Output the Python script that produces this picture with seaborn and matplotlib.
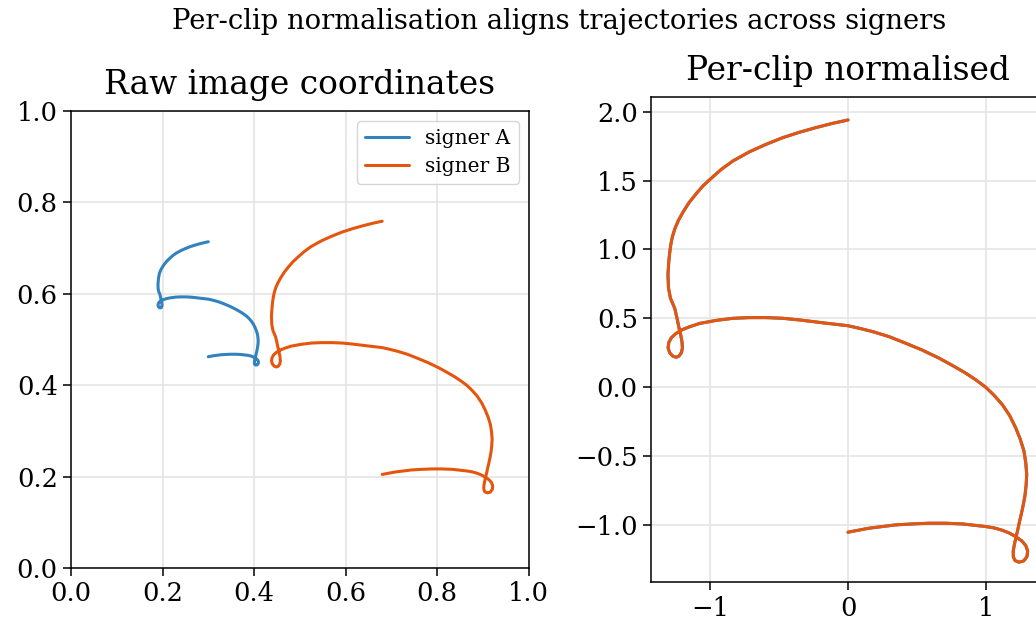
import matplotlib
matplotlib.use("Agg")
import matplotlib.pyplot as plt
import numpy as np
import pandas as pd
import seaborn as sns

# shared trajectory shape after per-clip normalisation
norm_x = [0.000, -0.115, -0.236, -0.356, -0.476, -0.596, -0.716, -0.837, -0.921, -1.000,
          -1.053, -1.101, -1.154, -1.197, -1.231, -1.257, -1.276, -1.288, -1.296, -1.302,
          -1.308, -1.304, -1.290, -1.259, -1.242, -1.227, -1.215, -1.206, -1.203, -1.210,
          -1.227, -1.247, -1.271, -1.295, -1.307, -1.302, -1.283, -1.252, -1.210, -1.150,
          -1.077, -0.956, -0.836, -0.715, -0.594, -0.473, -0.352, -0.171, 0.000, 0.080,
          0.177, 0.298, 0.419, 0.540, 0.661, 0.758, 0.855, 0.927, 1.000, 1.061,
          1.121, 1.174, 1.218, 1.252, 1.278, 1.291, 1.298, 1.294, 1.285, 1.272,
          1.259, 1.245, 1.232, 1.220, 1.209, 1.200, 1.201, 1.213, 1.242, 1.276,
          1.300, 1.305, 1.291, 1.262, 1.218, 1.169, 1.121, 1.061, 1.000, 0.831,
          0.709, 0.588, 0.467, 0.346, 0.153, 0.000]
norm_y = [1.940, 1.915, 1.884, 1.850, 1.811, 1.763, 1.709, 1.642, 1.581, 1.511,
          1.462, 1.407, 1.341, 1.274, 1.213, 1.153, 1.092, 1.031, 0.971, 0.910,
          0.817, 0.720, 0.646, 0.573, 0.500, 0.427, 0.378, 0.329, 0.285, 0.251,
          0.227, 0.217, 0.224, 0.249, 0.285, 0.324, 0.359, 0.388, 0.415, 0.439,
          0.463, 0.485, 0.500, 0.505, 0.505, 0.500, 0.488, 0.466, 0.446, 0.428,
          0.404, 0.367, 0.319, 0.269, 0.211, 0.158, 0.102, 0.054, 0.000, -0.059,
          -0.127, -0.206, -0.295, -0.380, -0.464, -0.548, -0.633, -0.710, -0.790, -0.860,
          -0.920, -0.980, -1.040, -1.090, -1.140, -1.190, -1.232, -1.259, -1.271, -1.262,
          -1.230, -1.189, -1.150, -1.116, -1.085, -1.058, -1.039, -1.022, -1.012, -0.993,
          -0.988, -0.988, -0.993, -1.000, -1.024, -1.053]

# per-signer clip centre and spread in raw image coordinates
signers = ["signer A", "signer B"]
centre_x = [0.300, 0.680]
centre_y = [0.551, 0.400]
spread = [0.084, 0.185]
colors = ["#3182bd", "#e6550d"]

sns.set_theme(style="ticks")
plt.rcParams["font.family"] = ["DejaVu Serif"]
plt.rcParams["text.color"] = "black"
plt.rcParams["axes.labelcolor"] = "black"
plt.rcParams["axes.titlecolor"] = "black"
plt.rcParams["axes.edgecolor"] = "black"
plt.rcParams["axes.linewidth"] = 1.1
plt.rcParams["xtick.color"] = "black"
plt.rcParams["ytick.color"] = "black"
plt.rcParams["xtick.labelcolor"] = "black"
plt.rcParams["ytick.labelcolor"] = "black"

rows = []
for i, s in enumerate(signers):
    for k in range(len(norm_x)):
        rows.append({"signer": s, "step": k,
                     "raw_x": centre_x[i] + spread[i] * norm_x[k],
                     "raw_y": centre_y[i] + spread[i] * norm_y[k],
                     "nx": norm_x[k], "ny": norm_y[k]})
df = pd.DataFrame(rows)

fig = plt.figure(figsize=(10.36, 6.24), dpi=100)
ax1 = fig.add_axes([0.0685, 0.0893, 0.4418, 0.7329])
ax2 = fig.add_axes([0.6284, 0.0668, 0.3803, 0.7782])

for i, s in enumerate(signers):
    d = df[df.signer == s]
    sns.lineplot(data=d, x="raw_x", y="raw_y", sort=False, estimator=None,
                 color=colors[i], linewidth=2.2, label=s, ax=ax1)
    sns.lineplot(data=d, x="nx", y="ny", sort=False, estimator=None,
                 color=colors[i], linewidth=2.2, legend=False, ax=ax2)

ax1.set_xlim(0, 1)
ax1.set_ylim(0, 1)
ax1.set_xticks([0, 0.2, 0.4, 0.6, 0.8, 1.0])
ax1.set_yticks([0, 0.2, 0.4, 0.6, 0.8, 1.0])
ax1.set_title("Raw image coordinates", fontsize=23.7, pad=12)

ax2.set_xlim(-1.431, 1.431)
ax2.set_ylim(-1.417, 2.109)
ax2.set_xticks([-1, 0, 1])
ax2.set_yticks([-1.0, -0.5, 0.0, 0.5, 1.0, 1.5, 2.0])
ax2.set_yticklabels(["\u22121.0", "\u22120.5", "0.0", "0.5", "1.0", "1.5", "2.0"])
ax2.set_title("Per-clip normalised", fontsize=23.7, pad=12)

for ax in (ax1, ax2):
    ax.set_xlabel("")
    ax.set_ylabel("")
    ax.grid(True, color="#e3e3e3", linewidth=1.1)
    ax.set_axisbelow(True)
    ax.tick_params(labelsize=18.5, length=6, width=1.1, direction="out")
    for sp in ax.spines.values():
        sp.set_visible(True)
        sp.set_color("black")

leg = ax1.legend(loc="upper right", fontsize=14.5, frameon=True, handlelength=2.2,
                 labelspacing=0.45)
leg.get_frame().set_edgecolor("#cccccc")

fig.text(0.54, 0.965, "Per-clip normalisation aligns trajectories across signers",
         ha="center", va="center", fontsize=19.7)

fig.savefig("out.png", dpi=100)
